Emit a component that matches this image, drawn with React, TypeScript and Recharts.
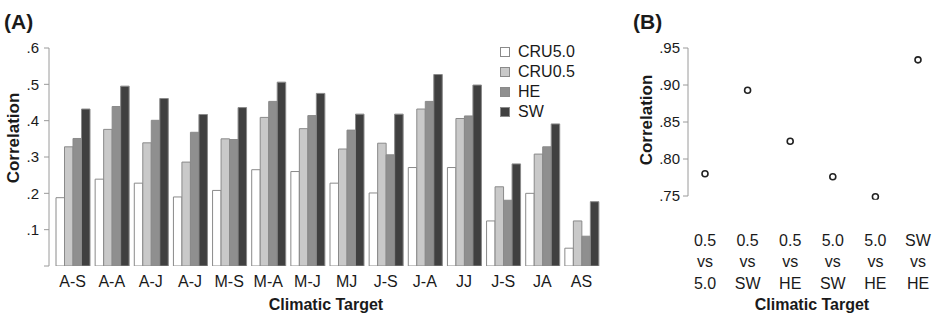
import React from 'react';
import { BarChart, Bar, XAxis, YAxis, LineChart, Line } from 'recharts';

// ---- Panel A data ----
const categoriesA = ['A-S', 'A-A', 'A-J', 'A-J', 'M-S', 'M-A', 'M-J', 'MJ', 'J-S', 'J-A', 'JJ', 'J-S', 'JA', 'AS'];
const cru50 = [0.188, 0.239, 0.228, 0.19, 0.208, 0.265, 0.26, 0.228, 0.201, 0.271, 0.271, 0.124, 0.2, 0.049];
const cru05 = [0.328, 0.376, 0.339, 0.286, 0.35, 0.409, 0.378, 0.322, 0.338, 0.432, 0.406, 0.218, 0.308, 0.124];
const he = [0.351, 0.439, 0.401, 0.368, 0.348, 0.453, 0.414, 0.374, 0.306, 0.453, 0.413, 0.181, 0.328, 0.082];
const sw = [0.432, 0.495, 0.461, 0.417, 0.436, 0.506, 0.475, 0.418, 0.418, 0.527, 0.498, 0.281, 0.391, 0.177];
const ticksA = [0, 0.1, 0.2, 0.3, 0.4, 0.5, 0.6];

const seriesNames = ['CRU5.0', 'CRU0.5', 'HE', 'SW'];
const seriesKeys = ['cru50', 'cru05', 'he', 'sw'];
const seriesColors = ['#ffffff', '#c9c9c9', '#8f8f8f', '#404040'];

// ---- Panel B data ----
const pairTop = ['0.5', '0.5', '0.5', '5.0', '5.0', 'SW'];
const pairBottom = ['5.0', 'SW', 'HE', 'SW', 'HE', 'HE'];
const corrB = [0.78, 0.893, 0.824, 0.776, 0.749, 0.934];
const ticksB = [0.75, 0.8, 0.85, 0.9, 0.95];

const dataA = categoriesA.map((c, i) => ({ i, cru50: cru50[i], cru05: cru05[i], he: he[i], sw: sw[i] }));
const dataB = corrB.map((v, i) => ({ i, corr: v }));

const FONT = '"Liberation Sans", Arial, Helvetica, sans-serif';
const AXIS_GRAY = '#9a9a9a';
const TEXT = '#1a1a1a';

const fmtA = (v: number) => (v === 0 ? '' : v.toFixed(1).replace(/^0/, ''));
const fmtB = (v: number) => v.toFixed(2).replace(/^0/, '');

const PairTick = (props: any) => {
  const { x, y, payload } = props;
  const i = payload.value;
  return (
    <text x={x} textAnchor="middle" fontFamily={FONT} fontSize={16} fill={TEXT}>
      <tspan x={x} y={y + 50}>{pairTop[i]}</tspan>
      <tspan x={x} y={y + 71}>vs</tspan>
      <tspan x={x} y={y + 93}>{pairBottom[i]}</tspan>
    </text>
  );
};

export default function App() {
  return (
    <div style={{ position: 'absolute', left: 0, top: 0, width: 937, height: 314, background: '#fff', fontFamily: FONT }}>
      <div style={{ position: 'absolute', left: 0, top: 0 }}>
        <BarChart
          width={601}
          height={314}
          data={dataA}
          margin={{ top: 48, right: 0, bottom: 18, left: 0 }}
          barGap={0}
          barSize={8.5}
        >
          <XAxis
            dataKey="i"
            type="category"
            tickFormatter={(i: number) => categoriesA[i]}
            axisLine={false}
            tickLine={false}
            height={30}
            tickMargin={4}
            interval={0}
            padding={{ left: 4, right: 0 }}
            tick={{ fontSize: 16, fill: TEXT, fontFamily: FONT }}
          />
          <YAxis
            width={49}
            domain={[0, 0.6]}
            ticks={ticksA}
            tickFormatter={fmtA}
            axisLine={{ stroke: AXIS_GRAY, strokeWidth: 1 }}
            tickLine={{ stroke: AXIS_GRAY }}
            tickSize={5}
            tickMargin={5}
            allowDataOverflow
            tick={{ fontSize: 15, fill: TEXT, fontFamily: FONT }}
          />
          {seriesKeys.map((k, j) => (
            <Bar
              key={k}
              dataKey={k}
              name={seriesNames[j]}
              fill={seriesColors[j]}
              stroke="#8a8a8a"
              strokeWidth={1}
              isAnimationActive={false}
            />
          ))}
        </BarChart>
      </div>

      {/* Legend for panel A */}
      <div style={{ position: 'absolute', left: 500, top: 42 }}>
        {seriesNames.map((n, j) => (
          <div key={n} style={{ height: 20, display: 'flex', alignItems: 'center' }}>
            <span
              style={{
                display: 'inline-block',
                width: 8,
                height: 8,
                background: seriesColors[j],
                border: '1px solid #8a8a8a',
                marginRight: 8,
              }}
            />
            <span style={{ fontSize: 16, color: TEXT, fontFamily: FONT, lineHeight: '20px' }}>{n}</span>
          </div>
        ))}
      </div>

      <div style={{ position: 'absolute', left: 610, top: 0 }}>
        <LineChart width={327} height={314} data={dataB} margin={{ top: 48, right: 0, bottom: 58, left: 0 }}>
          <XAxis
            dataKey="i"
            type="category"
            scale="point"
            axisLine={false}
            tickLine={false}
            tickSize={0}
            tickMargin={0}
            height={60}
            interval={0}
            padding={{ left: 17, right: 19 }}
            tick={<PairTick />}
          />
          <YAxis
            width={78}
            domain={[0.75, 0.95]}
            ticks={ticksB}
            tickFormatter={fmtB}
            axisLine={{ stroke: AXIS_GRAY, strokeWidth: 1 }}
            tickLine={{ stroke: AXIS_GRAY }}
            tickSize={5}
            tickMargin={3}
            allowDataOverflow
            tick={{ fontSize: 15, fill: TEXT, fontFamily: FONT }}
          />
          <Line
            dataKey="corr"
            stroke="none"
            isAnimationActive={false}
            dot={{ r: 3, fill: '#fff', stroke: '#222', strokeWidth: 1.6, clipDot: false }}
            activeDot={false}
          />
        </LineChart>
      </div>

      <svg width={937} height={314} style={{ position: 'absolute', left: 0, top: 0, pointerEvents: 'none' }}>
        <text x={4} y={29} fontFamily={FONT} fontWeight="bold" fontSize={21} fill={TEXT}>(A)</text>
        <text x={633} y={29} fontFamily={FONT} fontWeight="bold" fontSize={21} fill={TEXT}>(B)</text>
        <text transform="translate(19,138) rotate(-90)" textAnchor="middle" fontFamily={FONT} fontWeight="bold" fontSize={17} fill={TEXT}>Correlation</text>
        <text transform="translate(652,120) rotate(-90)" textAnchor="middle" fontFamily={FONT} fontWeight="bold" fontSize={17} fill={TEXT}>Correlation</text>
        <text x={326} y={310} textAnchor="middle" fontFamily={FONT} fontWeight="bold" fontSize={16} fill={TEXT}>Climatic Target</text>
        <text x={812} y={310} textAnchor="middle" fontFamily={FONT} fontWeight="bold" fontSize={16} fill={TEXT}>Climatic Target</text>
      </svg>
    </div>
  );
}
